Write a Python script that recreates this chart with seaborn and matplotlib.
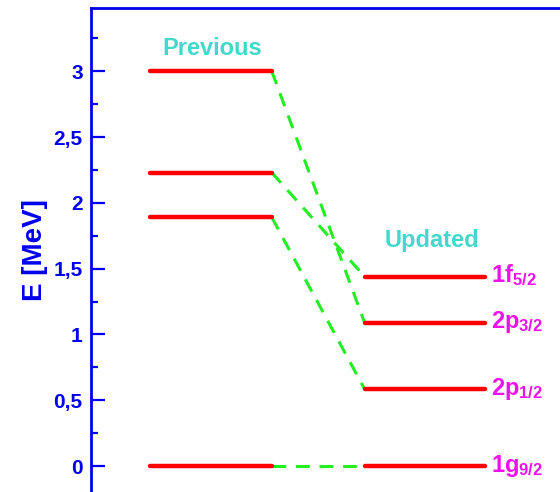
import matplotlib
matplotlib.use("Agg")
import matplotlib.pyplot as plt
import seaborn as sns
import pandas as pd

# Single-particle levels (MeV)
states = ["1f5/2", "2p3/2", "2p1/2", "1g9/2"]
state_labels = [r"$\mathbf{1f_{5/2}}$", r"$\mathbf{2p_{3/2}}$",
                r"$\mathbf{2p_{1/2}}$", r"$\mathbf{1g_{9/2}}$"]
previous_E = [2.23, 3.00, 1.89, 0.00]
updated_E = [1.44, 1.09, 0.585, 0.00]
yticks = [0, 0.5, 1, 1.5, 2, 2.5, 3]
ytick_labels = ["0", "0,5", "1", "1,5", "2", "2,5", "3"]

BLUE = "#0000ee"
RED = "#ff0000"
GREEN = "#22ee22"
CYAN = "#44d8cc"
MAGENTA = "#ee11ee"

sns.set_theme(style="white")
plt.rcParams["font.family"] = ["Liberation Sans", "DejaVu Sans"]
plt.rcParams["mathtext.fontset"] = "custom"
plt.rcParams["mathtext.bf"] = "Liberation Sans:bold"
plt.rcParams["mathtext.rm"] = "Liberation Sans:bold"

fig = plt.figure(figsize=(5.6, 4.92), dpi=100)
ax = fig.add_axes([0.1625, 0.0, 0.8375, 0.9837])

# column extents for the two level schemes
x_prev = (0.0, 1.0)
x_upd = (1.76, 2.75)

rows = []
for i, (s, e0, e1) in enumerate(zip(states, previous_E, updated_E)):
    rows.append({"id": f"p{i}", "x": x_prev[0], "E": e0})
    rows.append({"id": f"p{i}", "x": x_prev[1], "E": e0})
    rows.append({"id": f"u{i}", "x": x_upd[0], "E": e1})
    rows.append({"id": f"u{i}", "x": x_upd[1], "E": e1})
levels = pd.DataFrame(rows)

links = []
for i, (e0, e1) in enumerate(zip(previous_E, updated_E)):
    links.append({"id": f"l{i}", "x": x_prev[1], "E": e0})
    links.append({"id": f"l{i}", "x": x_upd[0], "E": e1})
links = pd.DataFrame(links)

for key, grp in links.groupby("id"):
    sns.lineplot(data=grp, x="x", y="E", ax=ax, color=GREEN, lw=2.2,
                 dashes=False, linestyle=(0, (4.5, 3.2)), estimator=None,
                 sort=False)
for key, grp in levels.groupby("id"):
    sns.lineplot(data=grp, x="x", y="E", ax=ax, color=RED, lw=3.2,
                 estimator=None, sort=False, zorder=3)

for lab, e in zip(state_labels, updated_E):
    ax.annotate(lab, xy=(x_upd[1], e), xytext=(4, -4),
                textcoords="offset points", color=MAGENTA, fontsize=17,
                ha="left", va="baseline")

ax.text(0.51, 3.17, "Previous", color=CYAN, fontsize=17, fontweight="bold",
        ha="center", va="center")
ax.text(2.31, 1.71, "Updated", color=CYAN, fontsize=17, fontweight="bold",
        ha="center", va="center")

ax.set_xlim(-0.48, 3.36)
ax.set_ylim(-0.197, 3.48)
ax.set_xticks([])
ax.set_yticks(yticks)
ax.set_yticklabels(ytick_labels)
ax.set_yticks([0.25, 0.75, 1.25, 1.75, 2.25, 2.75, 3.25], minor=True)
ax.tick_params(axis="y", which="major", direction="in", length=10, width=1.6,
               color=BLUE, labelcolor=BLUE, labelsize=15, pad=6, left=True)
ax.tick_params(axis="y", which="minor", direction="in", length=5, width=1.6,
               color=BLUE, left=True)
for t in ax.get_yticklabels():
    t.set_fontweight("bold")
ax.set_xlabel("")
ax.set_ylabel("E [MeV]", color=BLUE, fontsize=20, fontweight="bold",
              labelpad=4)

for side in ["right", "bottom"]:
    ax.spines[side].set_visible(False)
for side in ["left", "top"]:
    ax.spines[side].set_color(BLUE)
    ax.spines[side].set_linewidth(2)

fig.savefig("out.png", dpi=100, facecolor="white")
